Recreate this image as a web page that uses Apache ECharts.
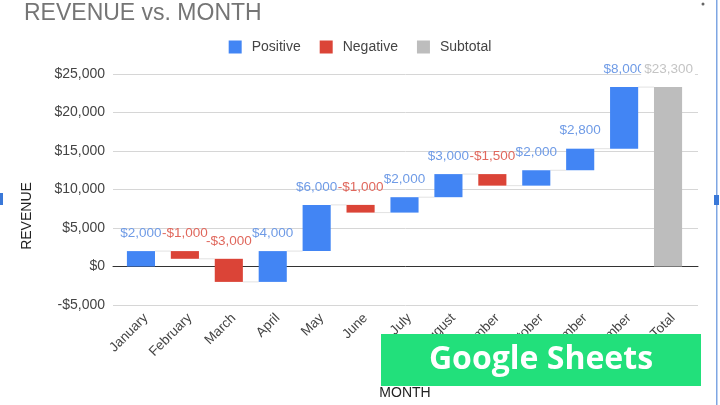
<!DOCTYPE html>
<html>
<head>
<meta charset="utf-8">
<script src="https://cdn.jsdelivr.net/npm/echarts@6/dist/echarts.min.js"></script>
<style>html,body{margin:0;padding:0;background:#fff}#c{width:720px;height:405px}</style>
</head>
<body>
<div id="c"></div>
<script>
const months = ['January','February','March','April','May','June','July','August','September','October','November','December'];
const changes = [2000, -1000, -3000, 4000, 6000, -1000, 2000, 3000, -1500, 2000, 2800, 8000];
const totalLabel = 'Total';
const totalValue = 23300;
const yMin = -5000, yMax = 25000, yStep = 5000;

const categories = months.concat([totalLabel]);
const posData = [], negData = [], subData = [], connData = [];
let run = 0;
changes.forEach((c, i) => {
  const s = run, e = run + c;
  (c >= 0 ? posData : negData).push([i, s, e, c]);
  connData.push([i, e]);
  run = e;
});
subData.push([months.length, 0, totalValue, totalValue]);

const FONT = 'Arial, "Liberation Sans", sans-serif';
const money = v => (v < 0 ? '-$' : '$') + Math.abs(v).toLocaleString('en-US');

function barRenderer(fill, labelFill, bg) {
  return function (params, api) {
    const idx = api.value(0), s = api.value(1), e = api.value(2), v = api.value(3);
    const p1 = api.coord([idx, s]), p2 = api.coord([idx, e]);
    const w = api.size([1, 0])[0] * 0.64;
    const top = Math.min(p1[1], p2[1]);
    const h = Math.abs(p1[1] - p2[1]);
    const txt = {
      text: money(v), fill: labelFill, font: '13.5px ' + FONT,
      textAlign: 'center', textVerticalAlign: 'bottom'
    };
    if (bg) { txt.backgroundColor = '#fff'; txt.padding = [0, 2, 0, 3]; }
    return {
      type: 'group',
      children: [
        { type: 'rect', shape: { x: p1[0] - w / 2, y: top, width: w, height: h }, style: { fill: fill } },
        { type: 'text', x: p1[0], y: top - 11, style: txt, z2: 10 }
      ]
    };
  };
}

const chart = echarts.init(document.getElementById('c'));
chart.setOption({
  animation: false,
  textStyle: { fontFamily: FONT },
  title: {
    text: 'REVENUE vs. MONTH', left: 19, top: -3,
    textStyle: { color: '#757575', fontSize: 23, fontWeight: 'normal', fontFamily: FONT }
  },
  legend: {
    data: ['Positive', 'Negative', 'Subtotal'],
    top: 35, left: 'center', icon: 'rect', itemWidth: 13, itemHeight: 13, itemGap: 19,
    textStyle: { color: '#444', fontSize: 14, fontFamily: FONT, padding: [0, 0, 0, 5] }
  },
  grid: [
    { left: 113, right: 22, top: 74, bottom: 100 },
    { left: 119, right: 30, top: 74, bottom: 100 }
  ],
  xAxis: [
    { gridIndex: 0, type: 'category', data: [''],
      axisLine: { show: true, onZero: true, lineStyle: { color: '#333', width: 1 } },
      axisTick: { show: false }, axisLabel: { show: false }, splitLine: { show: false } },
    { gridIndex: 1, type: 'category', data: categories,
      axisLine: { show: false, onZero: false }, axisTick: { show: false },
      axisLabel: { rotate: 45, interval: 0, margin: 6, verticalAlign: 'top',
        color: '#444', fontSize: 13.5, fontFamily: FONT } }
  ],
  yAxis: [
    { gridIndex: 0, type: 'value', min: yMin, max: yMax, interval: yStep,
      axisLine: { show: false }, axisTick: { show: false },
      axisLabel: { formatter: money, color: '#444', fontSize: 14, margin: 8, fontFamily: FONT },
      splitLine: { lineStyle: { color: '#d6d6d6', width: 1 } } },
    { gridIndex: 1, type: 'value', min: yMin, max: yMax, interval: yStep, show: false,
      splitLine: { show: false } }
  ],
  series: [
    { type: 'custom', name: 'base', xAxisIndex: 0, yAxisIndex: 0, data: [],
      renderItem: () => null, silent: true },
    { type: 'custom', name: 'connectors', xAxisIndex: 1, yAxisIndex: 1, data: connData, silent: true,
      encode: { x: 0, y: 1 },
      renderItem: function (params, api) {
        const idx = api.value(0), lv = api.value(1);
        const p = api.coord([idx, lv]);
        const step = api.size([1, 0])[0];
        const w = step * 0.64;
        return { type: 'line', shape: { x1: p[0] + w / 2, y1: p[1], x2: p[0] + step - w / 2, y2: p[1] },
          style: { stroke: '#e2e2e2', lineWidth: 1 } };
      } },
    { type: 'custom', name: 'Positive', xAxisIndex: 1, yAxisIndex: 1, data: posData,
      itemStyle: { color: '#4285f4' }, encode: { x: 0, y: [1, 2] },
      renderItem: barRenderer('#4285f4', '#6f9be6', false) },
    { type: 'custom', name: 'Negative', xAxisIndex: 1, yAxisIndex: 1, data: negData,
      itemStyle: { color: '#db4437' }, encode: { x: 0, y: [1, 2] },
      renderItem: barRenderer('#db4437', '#e0685d', false) },
    { type: 'custom', name: 'Subtotal', xAxisIndex: 1, yAxisIndex: 1, data: subData,
      itemStyle: { color: '#bdbdbd' }, encode: { x: 0, y: [1, 2] },
      renderItem: barRenderer('#bdbdbd', '#c4c4c4', true) }
  ],
  graphic: [
    { type: 'text', z: 100, x: 27, y: 216, rotation: Math.PI / 2,
      style: { text: 'REVENUE', fill: '#222', font: '14px ' + FONT, textAlign: 'center', textVerticalAlign: 'middle' } },
    { type: 'text', z: 100, x: 405, y: 393,
      style: { text: 'MONTH', fill: '#222', font: '14px ' + FONT, textAlign: 'center', textVerticalAlign: 'middle' } },
    { type: 'rect', z: 100, shape: { x: 381, y: 334, width: 320, height: 52 }, style: { fill: '#22e07b' } },
    { type: 'text', z: 101, x: 541, y: 360,
      style: { text: 'Google Sheets', fill: '#fff', font: 'bold 32px "Open Sans", sans-serif', textAlign: 'center', textVerticalAlign: 'middle' } },
    { type: 'rect', z: 100, shape: { x: 716, y: 0, width: 1.5, height: 405 }, style: { fill: '#7fa6e3' } },
    { type: 'rect', z: 101, shape: { x: 714, y: 195, width: 5, height: 10 }, style: { fill: '#3a78d8' } },
    { type: 'rect', z: 100, shape: { x: 0, y: 193, width: 3, height: 12 }, style: { fill: '#3a78d8' } },
    { type: 'circle', z: 100, shape: { cx: 703, cy: 4, r: 1.5 }, style: { fill: '#666' } }
  ]
});
</script>
</body>
</html>
